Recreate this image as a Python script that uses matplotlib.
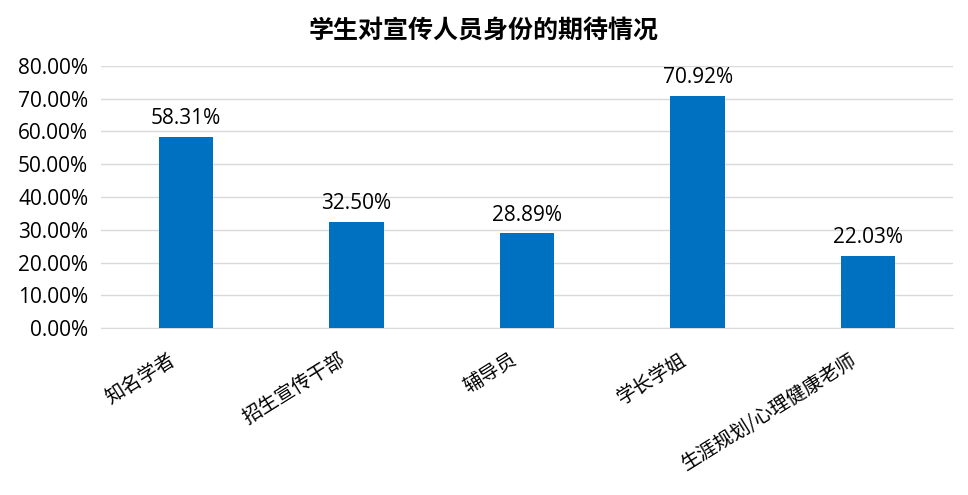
import matplotlib.pyplot as plt
import matplotlib.transforms as mtransforms
from matplotlib.ticker import FuncFormatter

plt.rcParams['font.family'] = ['Open Sans', 'Noto Sans CJK SC', 'DejaVu Sans']

categories = ['知名学者', '招生宣传干部', '辅导员', '学长学姐', '生涯规划/心理健康老师']
values = [58.31, 32.50, 28.89, 70.92, 22.03]
yticks = [0, 10, 20, 30, 40, 50, 60, 70, 80]

fig = plt.figure(figsize=(9.68, 4.95), dpi=100)
ax = fig.add_axes([0.104, 0.337, 0.881, 0.530])

x = range(len(categories))
ax.bar(x, values, width=0.32, color='#0070C0', zorder=3)

for xi, v in zip(x, values):
    ax.text(xi, v + 2.4, f'{v:.2f}%', ha='center', va='bottom', fontsize=15, color='#000000')

ax.set_xlim(-0.5, len(categories) - 0.5)
ax.set_ylim(0, 80)
ax.set_yticks(yticks)
ax.yaxis.set_major_formatter(FuncFormatter(lambda v, p: f'{v:.2f}%'))
ax.grid(axis='y', color='#D9D9D9', linewidth=1, zorder=0)
for s in ['top', 'right', 'left']:
    ax.spines[s].set_visible(False)
ax.spines['bottom'].set_color('#D9D9D9')
ax.tick_params(axis='both', length=0)
ax.tick_params(axis='y', pad=9, labelsize=15)

ax.set_xticks(list(x))
ax.set_xticklabels(categories, rotation=32, ha='right', va='top',
                   family=['Noto Sans CJK SC', 'DejaVu Sans'], fontsize=14)
ax.tick_params(axis='x', pad=15)
shift = mtransforms.ScaledTranslation(-7 / 100, 0, fig.dpi_scale_trans)
for lbl in ax.get_xticklabels():
    lbl.set_transform(lbl.get_transform() + shift)

fig.suptitle('学生对宣传人员身份的期待情况', y=0.963, fontsize=18, fontweight='bold',
             family=['Noto Sans CJK SC', 'DejaVu Sans'])

fig.savefig('out.png', dpi=100)
